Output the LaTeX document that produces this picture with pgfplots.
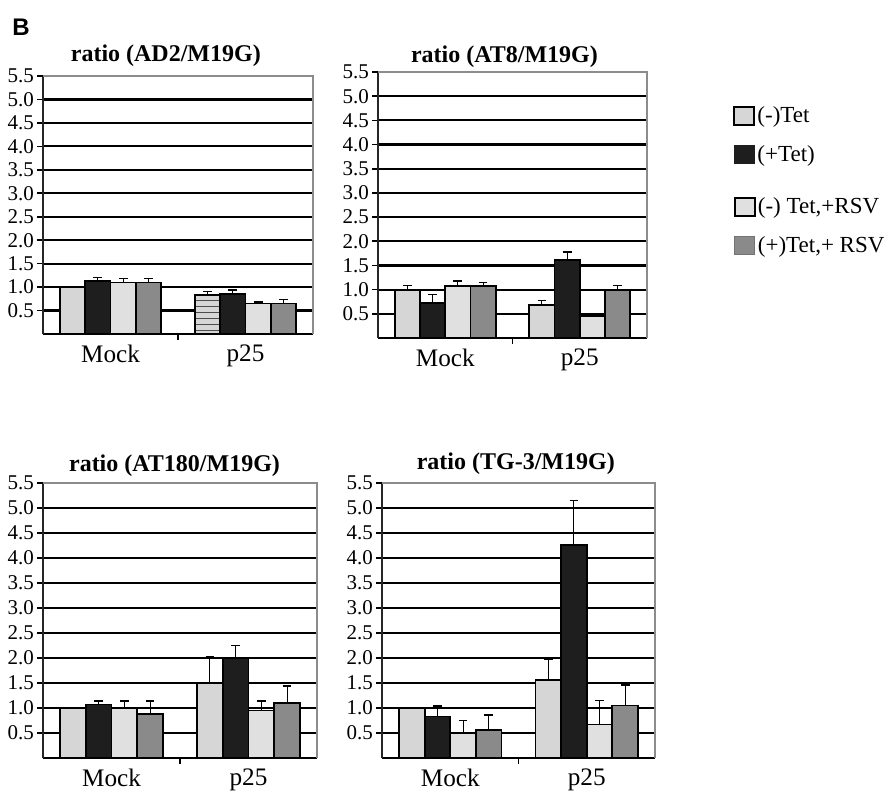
\documentclass[border=0pt]{standalone}
\usepackage{fontspec}
\setmainfont{Liberation Serif}
\newfontfamily\sansfont{Liberation Sans}
\usepackage{pgfplots}
\pgfplotsset{compat=1.18}
\usetikzlibrary{patterns}
\definecolor{cA}{HTML}{D6D6D6}
\definecolor{cB}{HTML}{1E1E1E}
\definecolor{cC}{HTML}{E0E0E0}
\definecolor{cD}{HTML}{8A8A8A}
\pgfplotsset{
  panel/.style={
    scale only axis,
    ymin=0, ymax=5.5, xmin=-0.5, xmax=1.5,
    axis x line*=bottom, axis y line*=left,
    x axis line style={black, line width=0.9pt},
    y axis line style={black!85, line width=0.9pt},
    ytick={0.5,1,1.5,2,2.5,3,3.5,4,4.5,5},
    extra y ticks={5.5}, extra y tick style={grid=none},
    ymajorgrids, grid style={black, line width=1.1pt},
    tick align=outside, major tick length=3pt,
    tick style={black, line width=0.8pt},
    /pgf/number format/fixed, /pgf/number format/fixed zerofill,
    /pgf/number format/precision=1, /pgf/number format/assume math mode=true,
    ticklabel style={font=\fontsize{10.5}{12}\selectfont},
    y tick label style={xshift=2pt},
    xtick={0.5}, xticklabels={},
    extra x ticks={0,1}, extra x tick labels={Mock,p25},
    extra x tick style={major tick length=0pt, tick label style={font=\fontsize{12.6}{14}\selectfont, yshift=-2pt}},
    title style={font=\bfseries\fontsize{12}{14}\selectfont, anchor=south},
    after end axis/.code={\draw[black!45, line width=0.9pt] (rel axis cs:0,1) -- (rel axis cs:1,1) -- (rel axis cs:1,0);},
  },
  bstyle/.style={ybar, bar width=0.1875, bar shift=0pt, draw=black, line width=0.9pt,
    error bars/y dir=plus, error bars/y explicit,
    error bars/error bar style={black, line width=0.5pt},
    error bars/error mark options={black, line width=0.7pt, mark size=2.2pt, rotate=90}},
  s1/.style={bstyle, fill=cA},
  s2/.style={bstyle, fill=cB},
  s3/.style={bstyle, fill=cC},
  s4/.style={bstyle, fill=cD},
  leg/.style={draw=none, fill=none, inner sep=0pt, row sep=8pt,
    font=\fontsize{11.5}{13}\selectfont, nodes={inner sep=1pt}, legend cell align=left},
}
\begin{document}
\begin{tikzpicture}
\path[use as bounding box] (0,0) rectangle (447pt,-396.5pt);
\node[font=\sansfont\bfseries\fontsize{12}{14}\selectfont] at (10.5pt,-13.5pt) {B};

% Panel 1: AD2  (Mock at 0, p25 at 1; the four bars of a group sit at -0.28, -0.09, +0.09, +0.28)
\begin{axis}[panel, at={(21.5pt,-167pt)}, anchor=south west, width=135pt, height=129pt,
  title={ratio (AD2/M19G)}, title style={at={(0.455,1)}, yshift=-5pt},
  legend style={leg, at={(rel axis cs:2.556,0.539)}, anchor=north west}]
\addplot[s1, forget plot] coordinates {(-0.28125,1.00) +- (0,0)};
\addplot[s1, forget plot, postaction={pattern=horizontal lines, pattern color=black!70}] coordinates {(0.71875,0.83) +- (0,0.07)};
\addplot[s2, forget plot] coordinates {(-0.09375,1.13) +- (0,0.08) (0.90625,0.86) +- (0,0.08)};
\addplot[s3, forget plot] coordinates {(0.09375,1.10) +- (0,0.08) (1.09375,0.65) +- (0,0.03)};
\addplot[s4, forget plot] coordinates {(0.28125,1.10) +- (0,0.08) (1.28125,0.65) +- (0,0.09)};
\addlegendimage{legend image code/.code={\draw[black, line width=1.2pt, fill=cC] (0pt,-4.5pt) rectangle (10pt,4.5pt);}}
\addlegendentry{(-) Tet,+RSV}
\addlegendimage{legend image code/.code={\draw[black!55, line width=0.4pt, fill=cD] (0pt,-4.5pt) rectangle (10pt,4.5pt);}}
\addlegendentry{(+)Tet,+ RSV}
\end{axis}

% Panel 2: AT8
\begin{axis}[panel, at={(189pt,-169pt)}, anchor=south west, width=134.5pt, height=133pt,
  title={ratio (AT8/M19G)}, title style={at={(0.47,1)}, yshift=-7.5pt},
  legend style={leg, at={(rel axis cs:1.32,0.88)}, anchor=north west}]
\addplot[s1, forget plot] coordinates {(-0.28125,1.00) +- (0,0.08) (0.71875,0.69) +- (0,0.08)};
\addplot[s2, forget plot] coordinates {(-0.09375,0.72) +- (0,0.18) (0.90625,1.62) +- (0,0.16)};
\addplot[s3, forget plot] coordinates {(0.09375,1.07) +- (0,0.11) (1.09375,0.46) +- (0,0.05)};
\addplot[s4, forget plot] coordinates {(0.28125,1.07) +- (0,0.08) (1.28125,1.00) +- (0,0.08)};
\addlegendimage{legend image code/.code={\draw[black, line width=1pt, fill=cA] (0pt,-4.5pt) rectangle (10pt,4.5pt);}}
\addlegendentry{(-)Tet}
\addlegendimage{legend image code/.code={\draw[cB, line width=0.4pt, fill=cB] (0pt,-4.5pt) rectangle (10pt,4.5pt);}}
\addlegendentry{(+Tet)}
\end{axis}

% Panel 3: AT180
\begin{axis}[panel, at={(21.5pt,-379pt)}, anchor=south west, width=137pt, height=137.5pt,
  title={ratio (AT180/M19G)}, title style={at={(0.48,1)}, yshift=-6.5pt}]
\addplot[s1] coordinates {(-0.28125,1.00) +- (0,0) (0.71875,1.50) +- (0,0.53)};
\addplot[s2] coordinates {(-0.09375,1.07) +- (0,0.07) (0.90625,2.00) +- (0,0.25)};
\addplot[s3] coordinates {(0.09375,0.99) +- (0,0.15) (1.09375,0.95) +- (0,0.19)};
\addplot[s4] coordinates {(0.28125,0.88) +- (0,0.26) (1.28125,1.10) +- (0,0.34)};
\end{axis}

% Panel 4: TG-3
\begin{axis}[panel, at={(191pt,-379pt)}, anchor=south west, width=136.5pt, height=137.5pt,
  title={ratio (TG-3/M19G)}, title style={at={(0.49,1)}, yshift=-5.5pt}]
\addplot[s1] coordinates {(-0.28125,1.00) +- (0,0) (0.71875,1.56) +- (0,0.41)};
\addplot[s2] coordinates {(-0.09375,0.83) +- (0,0.21) (0.90625,4.26) +- (0,0.89)};
\addplot[s3] coordinates {(0.09375,0.49) +- (0,0.26) (1.09375,0.67) +- (0,0.48)};
\addplot[s4] coordinates {(0.28125,0.56) +- (0,0.30) (1.28125,1.05) +- (0,0.41)};
\end{axis}
\end{tikzpicture}
\end{document}
